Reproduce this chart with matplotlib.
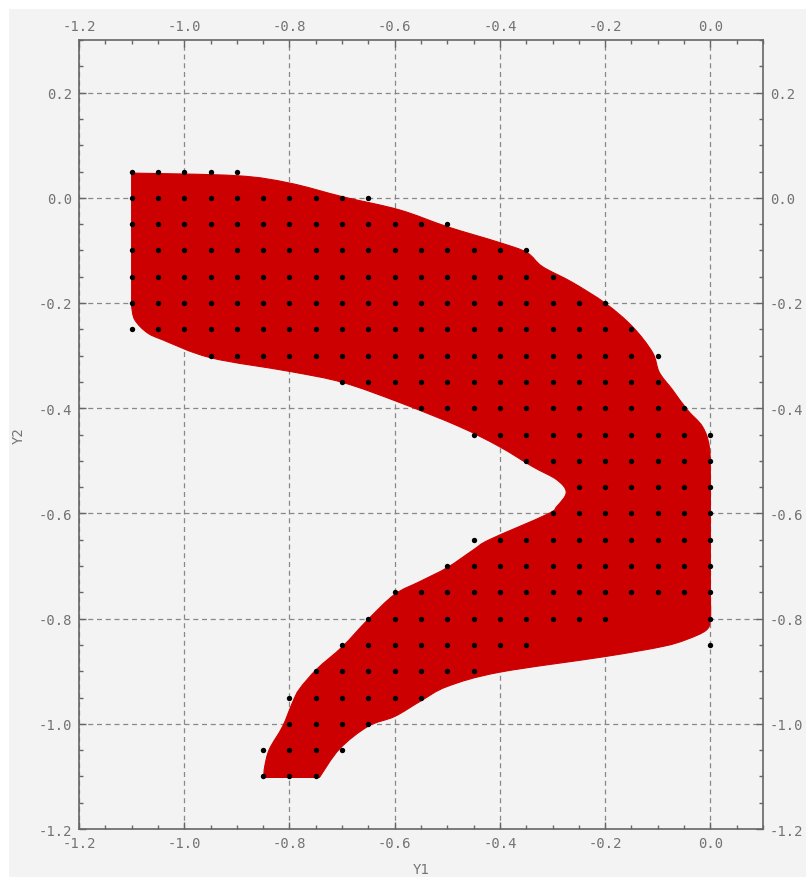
import numpy as np
import matplotlib.pyplot as plt
from matplotlib.patches import PathPatch, Rectangle
from matplotlib.path import Path
from matplotlib.ticker import MultipleLocator

plt.rcParams['axes.unicode_minus'] = False
plt.rcParams['font.family'] = ['DejaVu Sans Mono']

# outline of the feasible region (Y1, Y2), clockwise from the top-left corner;
# corner_idx marks the sharp corners, everything between them is drawn smooth
region_y1 = [-1.100, -0.900, -0.800, -0.699, -0.591, -0.500, -0.401, -0.349,
             -0.319, -0.262, -0.199, -0.148, -0.110, -0.097, -0.072, -0.044,
             -0.015, -0.002, 0.000, 0.000, 0.000, 0.000, 0.000, -0.008,
             -0.046, -0.091, -0.199, -0.401, -0.500, -0.551, -0.600, -0.651,
             -0.705, -0.743, -0.849, -0.847, -0.838, -0.813, -0.794, -0.781,
             -0.748, -0.699, -0.651, -0.600, -0.551, -0.500, -0.450, -0.420,
             -0.311, -0.292, -0.274, -0.292, -0.338, -0.401, -0.477, -0.591,
             -0.699, -0.800, -0.950, -1.041, -1.071, -1.094, -1.100]
region_y2 = [0.047, 0.042, 0.028, 0.002, -0.023, -0.055, -0.085, -0.104,
             -0.131, -0.161, -0.201, -0.245, -0.294, -0.332, -0.365, -0.403,
             -0.435, -0.473, -0.530, -0.600, -0.680, -0.750, -0.800, -0.822,
             -0.840, -0.853, -0.872, -0.902, -0.929, -0.957, -0.986, -1.005,
             -1.048, -1.102, -1.102, -1.081, -1.048, -1.005, -0.959, -0.934,
             -0.896, -0.853, -0.802, -0.754, -0.729, -0.703, -0.669, -0.650,
             -0.602, -0.587, -0.560, -0.536, -0.511, -0.473, -0.435, -0.389,
             -0.351, -0.330, -0.304, -0.270, -0.256, -0.232, -0.207]
corner_idx = [0, 33, 34, 62]

# sample points: one row per Y2 level, Y1 running from first to last in steps of 0.05
row_y2 = [0.05, 0.0, -0.05, -0.1, -0.15, -0.2, -0.25, -0.3, -0.35, -0.4,
          -0.45, -0.5, -0.55, -0.6, -0.65, -0.7, -0.75, -0.8, -0.85, -0.9,
          -0.95, -1.0, -1.05, -1.1]
row_first = [-1.1, -1.1, -1.1, -1.1, -1.1, -1.1, -1.1, -0.95, -0.7, -0.55,
             -0.45, -0.35, -0.25, -0.3, -0.45, -0.5, -0.6, -0.65, -0.7, -0.75,
             -0.8, -0.8, -0.85, -0.85]
row_last = [-0.9, -0.65, -0.5, -0.35, -0.3, -0.2, -0.15, -0.1, -0.1, -0.05,
            0.0, 0.0, 0.0, 0.0, 0.0, 0.0, 0.0, -0.2, -0.35, -0.45,
            -0.55, -0.65, -0.7, -0.75]
# isolated points off the ends of their rows
extra_y1 = [0.0, 0.0]
extra_y2 = [-0.8, -0.85]

pts_y1, pts_y2 = [], []
for y2, a, b in zip(row_y2, row_first, row_last):
    n = int(round((b - a) / 0.05)) + 1
    pts_y1.extend(np.round(np.linspace(a, b, n), 3))
    pts_y2.extend([y2] * n)
pts_y1 += extra_y1
pts_y2 += extra_y2


def smooth_chain(p):
    """Catmull-Rom chain through p as cubic Bezier segments (no MOVETO)."""
    verts, codes = [], []
    ext = np.vstack([p[0], p, p[-1]])
    for i in range(1, len(ext) - 2):
        p0, p1, p2, p3 = ext[i - 1], ext[i], ext[i + 1], ext[i + 2]
        c1 = p1 + (p2 - p0) / 6
        c2 = p2 - (p3 - p1) / 6
        verts += [c1, c2, p2]
        codes += [Path.CURVE4] * 3
    return verts, codes


outline = np.column_stack([region_y1, region_y2])
verts, codes = [outline[0]], [Path.MOVETO]
bounds = corner_idx + [len(outline)]
for a, b in zip(bounds[:-1], bounds[1:]):
    seg = outline[a:b + 1] if b < len(outline) else np.vstack([outline[a:], outline[0]])
    if len(seg) <= 2:
        verts.append(seg[-1])
        codes.append(Path.LINETO)
    else:
        v, c = smooth_chain(seg)
        verts += v
        codes += c
verts.append(outline[0])
codes.append(Path.CLOSEPOLY)
region_path = Path(np.array(verts), codes)

bg = '#f3f3f3'
txt = '#737373'

fig = plt.figure(figsize=(8.06, 8.78), dpi=100)
fig.patch.set_facecolor('white')
fig.patches.append(Rectangle((9 / 806, 0), 1, 1 - 10 / 878, transform=fig.transFigure,
                             facecolor=bg, edgecolor='none', zorder=-10))
ax = fig.add_axes([79 / 806, 48 / 878, 684 / 806, 789 / 878])
ax.set_facecolor(bg)

ax.add_patch(PathPatch(region_path, facecolor='#cc0000', edgecolor='#cc0000',
                       linewidth=0.8, zorder=2))
ax.scatter(pts_y1, pts_y2, s=15, color='black', linewidths=0, zorder=3)

ax.set_xlim(-1.2, 0.1)
ax.set_ylim(-1.2, 0.3)

ax.xaxis.set_major_locator(MultipleLocator(0.2))
ax.yaxis.set_major_locator(MultipleLocator(0.2))
ax.xaxis.set_minor_locator(MultipleLocator(0.05))
ax.yaxis.set_minor_locator(MultipleLocator(0.05))
ax.xaxis.set_major_formatter(lambda v, p: f'{v:.1f}')
ax.yaxis.set_major_formatter(lambda v, p: f'{v:.1f}')

ax.tick_params(which='both', direction='in', top=True, right=True,
               labeltop=True, labelright=True, colors='#666666',
               labelcolor=txt, labelsize=10)
ax.tick_params(which='major', length=5, width=1, pad=5)
ax.tick_params(which='minor', length=3, width=1)

ax.grid(True, which='major', color='#888888', linestyle=(0, (4, 3)), linewidth=0.9, zorder=1)
ax.set_axisbelow(True)
for s in ax.spines.values():
    s.set_color('#666666')
    s.set_linewidth(1.2)

ax.set_xlabel('Y1', color=txt, fontsize=10, labelpad=9)
ax.set_ylabel('Y2', color=txt, fontsize=10, labelpad=9)

fig.savefig('out.png', dpi=100, facecolor=fig.get_facecolor())
